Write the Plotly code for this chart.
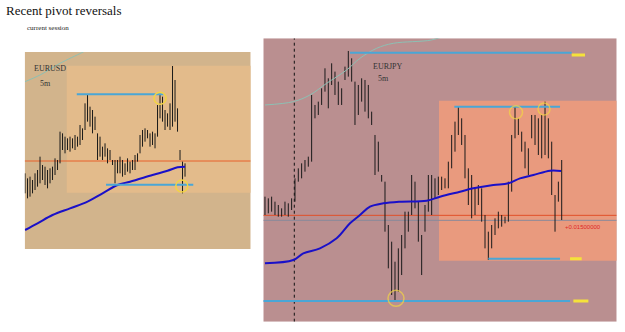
import plotly.graph_objects as go

# ---------------- data ----------------
# EURUSD 5m bars (high / low)
eu_high = [1.30230, 1.30215, 1.30220, 1.30210, 1.30230, 1.30240, 1.30280, 1.30255, 1.30250, 1.30240,
           1.30245, 1.30250, 1.30275, 1.30270, 1.30355, 1.30350, 1.30340, 1.30335, 1.30340, 1.30335,
           1.30345, 1.30340, 1.30375, 1.30365, 1.30440, 1.30467, 1.30430, 1.30420, 1.30400, 1.30350,
           1.30340, 1.30310, 1.30320, 1.30305, 1.30300, 1.30270, 1.30270, 1.30270, 1.30280, 1.30270,
           1.30260, 1.30275, 1.30265, 1.30270, 1.30285, 1.30290, 1.30345, 1.30360, 1.30365, 1.30360,
           1.30350, 1.30355, 1.30350, 1.30435, 1.30467, 1.30460, 1.30420, 1.30410, 1.30440, 1.30552,
           1.30510, 1.30425, 1.30300, 1.30265, 1.30260]
eu_low = [1.30170, 1.30155, 1.30160, 1.30170, 1.30180, 1.30190, 1.30200, 1.30210, 1.30195, 1.30185,
          1.30200, 1.30210, 1.30225, 1.30240, 1.30260, 1.30300, 1.30290, 1.30300, 1.30295, 1.30305,
          1.30300, 1.30310, 1.30315, 1.30330, 1.30360, 1.30385, 1.30370, 1.30350, 1.30360, 1.30270,
          1.30280, 1.30270, 1.30280, 1.30260, 1.30270, 1.30255, 1.30200, 1.30230, 1.30230, 1.30220,
          1.30225, 1.30235, 1.30230, 1.30240, 1.30240, 1.30265, 1.30290, 1.30310, 1.30325, 1.30335,
          1.30310, 1.30315, 1.30305, 1.30340, 1.30395, 1.30385, 1.30360, 1.30370, 1.30360, 1.30370,
          1.30385, 1.30355, 1.30270, 1.30170, 1.30220]
eu_ma_slow_x = [0, 5, 11, 18, 25, 31, 37, 42, 51, 57, 61, 64]
eu_ma_slow = [1.30060, 1.30080, 1.30105, 1.30125, 1.30145, 1.30170, 1.30195, 1.30205, 1.30225,
              1.30238, 1.30248, 1.30250]
eu_ma_fast_x = [0, 6, 14, 22.7, 24.7]
eu_ma_fast = [1.30505, 1.30525, 1.30560, 1.30592, 1.30600]
eu_session_line = 1.30267
eu_pivot_high = 1.30467
eu_pivot_low = 1.30196
eu_range_hi, eu_range_lo = 1.30553, 1.30172
eu_circles_x = [54, 62.7]
eu_circles_y = [1.30455, 1.30192]

# EURJPY 5m bars (high / low)
ej_high = [110.415, 110.410, 110.415, 110.400, 110.390, 110.380, 110.400, 110.395, 110.410, 110.470,
           110.500, 110.515, 110.525, 110.535, 110.720, 110.690, 110.700, 110.740, 110.800, 110.770,
           110.815, 110.790, 110.760, 110.740, 110.805, 110.852, 110.830, 110.760, 110.750, 110.770,
           110.765, 110.750, 110.670, 110.600, 110.580, 110.480, 110.460, 110.330, 110.280, 110.220,
           110.260, 110.300, 110.370, 110.370, 110.480, 110.460, 110.400, 110.300, 110.390, 110.480,
           110.480, 110.470, 110.475, 110.475, 110.470, 110.520, 110.600, 110.640, 110.685, 110.650,
           110.600, 110.500, 110.480, 110.440, 110.450, 110.440, 110.360, 110.310, 110.330, 110.350,
           110.370, 110.360, 110.355, 110.460, 110.600, 110.685, 110.650, 110.610, 110.580, 110.560,
           110.660, 110.660, 110.650, 110.660, 110.700, 110.650, 110.580, 110.420, 110.460, 110.525]
ej_low = [110.360, 110.365, 110.370, 110.360, 110.355, 110.355, 110.360, 110.355, 110.375, 110.400,
          110.460, 110.470, 110.490, 110.505, 110.520, 110.650, 110.660, 110.690, 110.730, 110.680,
          110.750, 110.720, 110.690, 110.690, 110.765, 110.775, 110.760, 110.630, 110.660, 110.700,
          110.670, 110.650, 110.630, 110.480, 110.490, 110.460, 110.310, 110.200, 110.120, 110.100,
          110.130, 110.180, 110.260, 110.310, 110.360, 110.380, 110.280, 110.180, 110.310, 110.370,
          110.360, 110.410, 110.420, 110.435, 110.440, 110.440, 110.500, 110.550, 110.600, 110.570,
          110.470, 110.390, 110.350, 110.360, 110.390, 110.340, 110.260, 110.225, 110.260, 110.300,
          110.320, 110.325, 110.335, 110.340, 110.430, 110.590, 110.600, 110.550, 110.500, 110.480,
          110.590, 110.570, 110.540, 110.530, 110.540, 110.530, 110.420, 110.310, 110.400, 110.345]
ej_ma_slow_x = [0, 8.5, 11.5, 16.5, 21.5, 25.5, 28.5, 31.5, 35.5, 40.5, 48.5, 52.5, 58.5, 62.5,
                68.5, 73, 76.5, 80.5, 85.5, 88.8]
ej_ma_slow = [110.215, 110.225, 110.245, 110.260, 110.290, 110.335, 110.360, 110.385, 110.395,
              110.400, 110.403, 110.415, 110.430, 110.440, 110.450, 110.455, 110.470, 110.480,
              110.493, 110.492]
ej_ma_fast_x = [0, 8.5, 13.5, 18.5, 24.5, 28.5, 33.5, 38.5, 50, 54.5]
ej_ma_fast = [110.690, 110.700, 110.720, 110.755, 110.795, 110.830, 110.860, 110.875, 110.885, 110.900]
ej_session_line = 110.359
ej_last_line = 110.344
ej_session_start = 8.8
ej_level_top = 110.847
ej_level_bottom = 110.102
ej_pivot_high = 110.685
ej_pivot_low = 110.229
ej_range_hi, ej_range_lo = 110.703, 110.223
ej_circles_x = [75.3, 83.7, 39.3]
ej_circles_y = [110.668, 110.678, 110.110]
ej_label = "+0.01500000"

# axis ranges (bar index / price)
EU_X = [-0.13, 90.27]
EU_Y = [1.30003, 1.30594]
EJ_X = [-0.5, 105.5]
EJ_Y = [110.040, 110.890]

# ---------------- helpers ----------------
def bar_segments(highs, lows):
    xs, ys = [], []
    for i, (h, l) in enumerate(zip(highs, lows)):
        xs += [i, i, None]
        ys += [l, h, None]
    return xs, ys

fig = go.Figure()

BAR = "#1a1a1a"
CYAN = "#4aa6d6"
BLUE = "#1a10c8"
TEAL = "#8cc0b4"
YEL = "#f5e23a"
CIRC = "#f2d445"

# ----- left panel (EURUSD) -----
x, y = bar_segments(eu_high, eu_low)
fig.add_trace(go.Scatter(x=x, y=y, mode="lines", line=dict(color=BAR, width=1),
                         xaxis="x", yaxis="y", hoverinfo="skip"))
fig.add_trace(go.Scatter(x=eu_ma_fast_x, y=eu_ma_fast, mode="lines",
                         line=dict(color=TEAL, width=1, shape="spline"), xaxis="x", yaxis="y"))
fig.add_trace(go.Scatter(x=eu_ma_slow_x, y=eu_ma_slow, mode="lines",
                         line=dict(color=BLUE, width=2, shape="spline"), xaxis="x", yaxis="y"))
fig.add_trace(go.Scatter(x=[20.7, 55.3], y=[eu_pivot_high] * 2, mode="lines",
                         line=dict(color=CYAN, width=2), xaxis="x", yaxis="y"))
fig.add_trace(go.Scatter(x=[32.4, 67.3], y=[eu_pivot_low] * 2, mode="lines",
                         line=dict(color=CYAN, width=2), xaxis="x", yaxis="y"))
fig.add_trace(go.Scatter(x=eu_circles_x, y=eu_circles_y, mode="markers",
                         marker=dict(symbol="circle-open", size=12, color=CIRC,
                                     line=dict(width=1.5, color=CIRC)),
                         xaxis="x", yaxis="y"))

# ----- right panel (EURJPY) -----
x, y = bar_segments(ej_high, ej_low)
fig.add_trace(go.Scatter(x=x, y=y, mode="lines", line=dict(color=BAR, width=1),
                         xaxis="x2", yaxis="y2", hoverinfo="skip"))
fig.add_trace(go.Scatter(x=ej_ma_fast_x, y=ej_ma_fast, mode="lines",
                         line=dict(color=TEAL, width=1, shape="spline"), xaxis="x2", yaxis="y2"))
fig.add_trace(go.Scatter(x=ej_ma_slow_x, y=ej_ma_slow, mode="lines",
                         line=dict(color=BLUE, width=2, shape="spline"), xaxis="x2", yaxis="y2"))
for (xa, xb, lv) in [(25.5, 92, ej_level_top), (56.8, 88.5, ej_pivot_high),
                     (67, 88.5, ej_pivot_low), (-0.5, 91.5, ej_level_bottom)]:
    fig.add_trace(go.Scatter(x=[xa, xb], y=[lv, lv], mode="lines",
                             line=dict(color=CYAN, width=2), xaxis="x2", yaxis="y2"))
for (xa, xb, lv) in [(92, 96, ej_level_top - 0.007), (91.5, 95, ej_pivot_low),
                     (92.5, 97, ej_level_bottom)]:
    fig.add_trace(go.Scatter(x=[xa, xb], y=[lv, lv], mode="lines",
                             line=dict(color=YEL, width=3), xaxis="x2", yaxis="y2"))
fig.add_trace(go.Scatter(x=ej_circles_x, y=ej_circles_y, mode="markers",
                         marker=dict(symbol="circle-open", size=[13, 12, 16], color=CIRC,
                                     line=dict(width=1.5, color=CIRC)),
                         xaxis="x2", yaxis="y2"))

shapes = [
    dict(type="rect", xref="x", yref="y", x0=EU_X[0], x1=EU_X[1], y0=EU_Y[0], y1=EU_Y[1],
         fillcolor="#d2b48c", line=dict(width=0), layer="below"),
    dict(type="rect", xref="x", yref="y", x0=16.7, x1=EU_X[1], y0=eu_range_lo, y1=eu_range_hi,
         fillcolor="#e3bb8b", line=dict(width=0), layer="below"),
    dict(type="line", xref="x", yref="y", x0=EU_X[0], x1=EU_X[1], y0=eu_session_line,
         y1=eu_session_line, line=dict(color="#e8602a", width=1), layer="below"),
    dict(type="rect", xref="x2", yref="y2", x0=EJ_X[0], x1=EJ_X[1], y0=EJ_Y[0], y1=EJ_Y[1],
         fillcolor="#ba8f90", line=dict(width=0), layer="below"),
    dict(type="rect", xref="x2", yref="y2", x0=52.2, x1=EJ_X[1], y0=ej_range_lo, y1=ej_range_hi,
         fillcolor="#e99a7e", line=dict(width=0), layer="below"),
    dict(type="line", xref="x2", yref="y2", x0=EJ_X[0], x1=EJ_X[1], y0=ej_session_line,
         y1=ej_session_line, line=dict(color="#e0502a", width=1), layer="below"),
    dict(type="line", xref="x2", yref="y2", x0=EJ_X[0], x1=EJ_X[1], y0=ej_last_line,
         y1=ej_last_line, line=dict(color="#8a8a9a", width=1), layer="below"),
    dict(type="line", xref="x2", yref="y2", x0=ej_session_start, x1=ej_session_start,
         y0=EJ_Y[0], y1=EJ_Y[1], line=dict(color="#111111", width=1, dash="dot"), layer="below"),
]

SERIF = "Liberation Serif, DejaVu Serif, serif"
annotations = [
    dict(text="Recent pivot reversals", xref="paper", yref="paper", x=4 / 625, y=1 - 10 / 332,
         xanchor="left", yanchor="middle", showarrow=False,
         font=dict(family=SERIF, size=13, color="#111111")),
    dict(text="current session", xref="paper", yref="paper", x=25 / 625, y=1 - 28 / 332,
         xanchor="left", yanchor="middle", showarrow=False,
         font=dict(family=SERIF, size=7, color="#222222")),
    dict(text="EURUSD", xref="x", yref="y", x=10, y=1.30543, showarrow=False,
         font=dict(family=SERIF, size=8, color="#333333")),
    dict(text="5m", xref="x", yref="y", x=8.3, y=1.30498, showarrow=False,
         font=dict(family=SERIF, size=8, color="#333333")),
    dict(text="EURJPY", xref="x2", yref="y2", x=37, y=110.805, showarrow=False,
         font=dict(family=SERIF, size=8, color="#333333")),
    dict(text="5m", xref="x2", yref="y2", x=35.5, y=110.770, showarrow=False,
         font=dict(family=SERIF, size=8, color="#333333")),
    dict(text=ej_label, xref="x2", yref="y2", x=89.5, y=110.323, xanchor="left", showarrow=False,
         font=dict(family="Liberation Sans, Arial, sans-serif", size=6, color="#e02828")),
]

fig.update_layout(
    width=625, height=332, margin=dict(l=0, r=0, t=0, b=0),
    paper_bgcolor="white", plot_bgcolor="rgba(0,0,0,0)", showlegend=False,
    xaxis=dict(domain=[24.7 / 625, 250.7 / 625], range=EU_X, visible=False,
               anchor="y", fixedrange=True),
    yaxis=dict(domain=[1 - 249 / 332, 1 - 52 / 332], range=EU_Y, visible=False,
               anchor="x", fixedrange=True),
    xaxis2=dict(domain=[263.3 / 625, 616.7 / 625], range=EJ_X, visible=False,
                anchor="y2", fixedrange=True),
    yaxis2=dict(domain=[1 - 321.7 / 332, 1 - 38.3 / 332], range=EJ_Y, visible=False,
                anchor="x2", fixedrange=True),
    shapes=shapes, annotations=annotations,
)

fig.write_html("out.html")
